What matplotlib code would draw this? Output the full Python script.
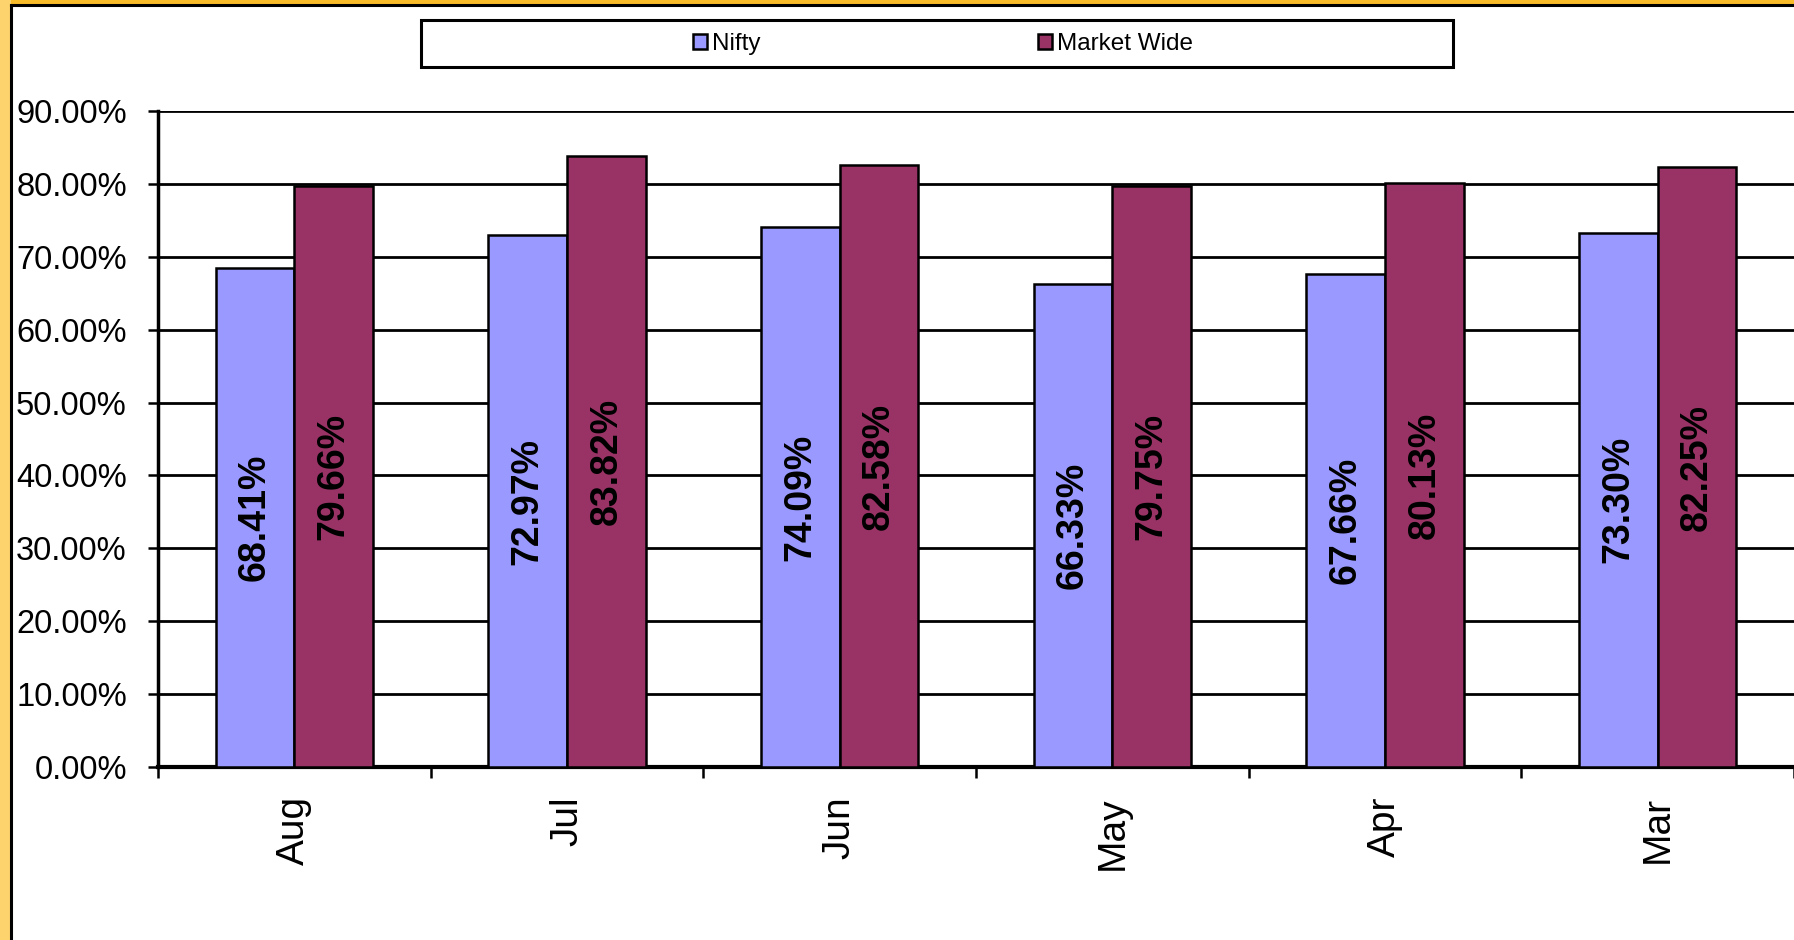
import matplotlib
matplotlib.use("Agg")
import matplotlib.pyplot as plt
from matplotlib.patches import Rectangle, Patch
from matplotlib.lines import Line2D
import numpy as np

plt.rcParams['font.family'] = ['Liberation Sans', 'DejaVu Sans']

months = ["Aug", "Jul", "Jun", "May", "Apr", "Mar"]
nifty = [68.41, 72.97, 74.09, 66.33, 67.66, 73.30]
market_wide = [79.66, 83.82, 82.58, 79.75, 80.13, 82.25]
series_names = ["Nifty", "Market Wide"]
series_colors = ["#9999FF", "#993366"]
yticks = [0, 10, 20, 30, 40, 50, 60, 70, 80, 90]

W, H = 1794, 940
fig = plt.figure(figsize=(W / 100, H / 100), dpi=100)
fig.patch.set_facecolor("#FDD36E")

# white chart area with black left/top border
fig.patches.append(Rectangle((11 / W, 0), 1, 1 - 5 / H, transform=fig.transFigure,
                             facecolor="white", edgecolor="none", zorder=-2))
fig.patches.append(Rectangle((11 / W, 1 - 4 / H), 1, 4 / H, transform=fig.transFigure,
                             facecolor="#F8BC2A", edgecolor="none", zorder=-2))
fig.lines.append(Line2D([11 / W, 11 / W], [0, 1 - 5 / H], transform=fig.transFigure,
                        color="black", lw=2.2, zorder=-1))
fig.lines.append(Line2D([11 / W, 1], [1 - 5 / H, 1 - 5 / H], transform=fig.transFigure,
                        color="black", lw=2.2, zorder=-1))

left, right = 158 / W, 1.0
bottom, top = 1 - 767 / H, 1 - 111 / H
ax = fig.add_axes([left, bottom, right - left, top - bottom])
ax.set_facecolor("none")
ax.set_zorder(1)

n = len(months)
x = np.arange(n) + 0.5
bw = 0.288
b1 = ax.bar(x - bw / 2, nifty, bw, color=series_colors[0], edgecolor="black",
            linewidth=1.8, zorder=3, label=series_names[0])
b2 = ax.bar(x + bw / 2, market_wide, bw, color=series_colors[1], edgecolor="black",
            linewidth=1.8, zorder=3, label=series_names[1])

for bars in (b1, b2):
    ax.bar_label(bars, labels=[f"{v:.2f}%" for v in bars.datavalues], label_type="center",
                 rotation=90, fontsize=27, fontweight="bold", color="black", zorder=4)

ax.set_xlim(0, n)
ax.set_ylim(0, 90)
ax.set_yticks(yticks)
ax.set_yticklabels([f"{v:.2f}%" for v in yticks], fontsize=23.5)
ax.yaxis.grid(True, color="black", linewidth=2.0, zorder=1)
ax.set_axisbelow(True)
ax.tick_params(axis="y", direction="out", length=7.5, width=1.8, pad=15)

ax.set_xticks(x)
ax.set_xticklabels(months, rotation=90, fontsize=28)
ax.tick_params(axis="x", which="major", length=0, pad=21)
ax.set_xticks(np.arange(n + 1), minor=True)
ax.tick_params(axis="x", which="minor", direction="out", length=8, width=1.8)

for s in ("top", "right"):
    ax.spines[s].set_visible(False)
ax.spines["left"].set_linewidth(2.5)
ax.spines["bottom"].set_linewidth(3.0)

# legend box
fig.patches.append(Rectangle((421 / W, 1 - 67 / H), (1453 - 421) / W, 47 / H,
                             transform=fig.transFigure, facecolor="white",
                             edgecolor="black", linewidth=2.2, zorder=2))
handles = [Patch(facecolor=c, edgecolor="black", linewidth=1.8) for c in series_colors]
leg = fig.legend(handles, series_names, loc="center", bbox_to_anchor=(943 / W, 1 - 44 / H),
                 ncol=2, frameon=False, fontsize=17.5, handlelength=0.6, handleheight=0.6,
                 handletextpad=0.2, columnspacing=11.4)
leg.set_zorder(5)

fig.savefig("out.png", dpi=100, facecolor=fig.get_facecolor())
